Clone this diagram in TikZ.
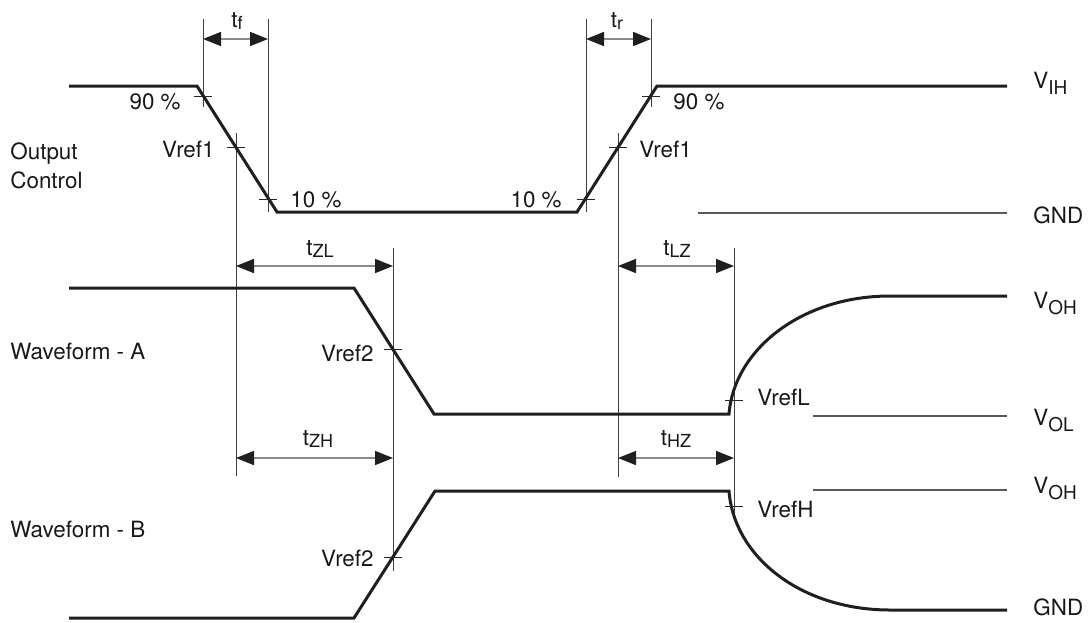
\documentclass[tikz,border=0pt]{standalone}
\usepackage{fontspec}
\setmainfont{TeX Gyre Heros}
\usetikzlibrary{arrows.meta}
\newcommand\tsub[1]{\raisebox{-1pt}{\fontsize{9}{9}\selectfont #1}}
\newcommand\vsub[1]{\raisebox{-3pt}{\fontsize{9.5}{9.5}\selectfont #1}}
\begin{document}
\begin{tikzpicture}[x=0.5pt,y=-0.5pt,
  sig/.style={line width=1.5pt, draw=black!88, line join=miter},
  guide/.style={line width=0.5pt, draw=black!75},
  reflevel/.style={line width=0.6pt, draw=black!65},
  tickmark/.style={line width=0.5pt, draw=black!85},
  dim/.style={line width=0.8pt, draw=black!45,
    {Triangle[length=9pt,width=7pt,color=black!88]}-{Triangle[length=9pt,width=7pt,color=black!88]}},
  lab/.style={inner sep=0pt, font=\fontsize{11.2}{13}\selectfont, text=black!90}]
\useasboundingbox (0,0) rectangle (1090,622);
% ---------- key points ----------
\coordinate (o1) at (69,86);  \coordinate (o2) at (197,86);
\coordinate (o3) at (277,212); \coordinate (o4) at (577,212);
\coordinate (o5) at (657,86); \coordinate (o6) at (1007,86);
\coordinate (a1) at (69,288); \coordinate (a2) at (354,288);
\coordinate (a3) at (434,414); \coordinate (a4) at (729,414);
\coordinate (a5) at (890,296); \coordinate (a6) at (1007,296);
\coordinate (b1) at (69,618); \coordinate (b2) at (354,618);
\coordinate (b3) at (435,491); \coordinate (b4) at (729,491);
\coordinate (b5) at (890,610); \coordinate (b6) at (1007,610);
% tick points
\coordinate (f90) at (203,96);  \coordinate (f10) at (268,199);
\coordinate (fv1) at (236,147); \coordinate (r10) at (586,199);
\coordinate (rv1) at (618,147); \coordinate (r90) at (651,96);
\coordinate (av2) at (393,349); \coordinate (bv2) at (393,557);
\coordinate (vl) at (734,400);  \coordinate (vh) at (734,506);
% guide line ends
\coordinate (g1t) at (203,19);  \coordinate (g1b) at (203,107);
\coordinate (g2t) at (268,19);  \coordinate (g2b) at (268,212);
\coordinate (g3t) at (586,19);  \coordinate (g3b) at (586,212);
\coordinate (g4t) at (651,19);  \coordinate (g4b) at (651,107);
\coordinate (g5t) at (236,133); \coordinate (g5b) at (236,476);
\coordinate (g6t) at (393,248); \coordinate (g6b) at (393,571);
\coordinate (g7t) at (618,133); \coordinate (g7b) at (618,477);
\coordinate (g8t) at (734,248); \coordinate (g8b) at (734,520);
% dimension arrow ends
\coordinate (tfl) at (203,39);  \coordinate (tfr) at (268,39);
\coordinate (trl) at (586,39);  \coordinate (trr) at (651,39);
\coordinate (zll) at (236,266); \coordinate (zlr) at (393,266);
\coordinate (lzl) at (618,266); \coordinate (lzr) at (734,266);
\coordinate (zhl) at (236,458); \coordinate (zhr) at (393,458);
\coordinate (hzl) at (618,458); \coordinate (hzr) at (734,458);
% reference levels
\coordinate (gnd1l) at (698,213); \coordinate (gnd1r) at (1007,213);
\coordinate (voll) at (813,416);  \coordinate (volr) at (1007,416);
\coordinate (vohl) at (813,490);  \coordinate (vohr) at (1007,490);
% ---------- guides ----------
\foreach \g in {1,...,8} \draw[guide] (g\g t) -- (g\g b);
% ---------- reference levels ----------
\draw[reflevel] (gnd1l) -- (gnd1r);
\draw[reflevel] (voll) -- (volr);
\draw[reflevel] (vohl) -- (vohr);
% ---------- dimension arrows ----------
\draw[dim] (tfl) -- (tfr);
\draw[dim] (trl) -- (trr);
\draw[dim] (zll) -- (zlr);
\draw[dim] (lzl) -- (lzr);
\draw[dim] (zhl) -- (zhr);
\draw[dim] (hzl) -- (hzr);
% ---------- signals ----------
\draw[sig] (o1) -- (o2) -- (o3) -- (o4) -- (o5) -- (o6);
\draw[sig] (a1) -- (a2) -- (a3) -- (a4) .. controls (734,350) and (801,296) .. (a5) -- (a6);
\draw[sig] (b1) -- (b2) -- (b3) -- (b4) .. controls (734,557) and (801,610) .. (b5) -- (b6);
% ---------- ticks ----------
\foreach \p in {f90,f10,fv1,r10,rv1,r90,av2,bv2,vl,vh}
  \draw[tickmark] (\p) ++(-9,0) -- ++(18,0);
% ---------- labels ----------
\node[lab,anchor=base] (ltf) at (237,27) {t\tsub{f}};
\node[lab,anchor=base] (ltr) at (617,27) {t\tsub{r}};
\node[lab,anchor=base] (ltzl) at (320,255) {t\tsub{ZL}};
\node[lab,anchor=base] (ltlz) at (677,255) {t\tsub{LZ}};
\node[lab,anchor=base] (ltzh) at (318,445) {t\tsub{ZH}};
\node[lab,anchor=base] (lthz) at (676,445) {t\tsub{HZ}};
\node[lab,anchor=base east] (lf90) at (181,109) {90 \%};
\node[lab,anchor=base east] (lfv1) at (215,157) {Vref1};
\node[lab,anchor=base west] (lf10) at (290,207) {10 \%};
\node[lab,anchor=base east] (lr10) at (562,207) {10 \%};
\node[lab,anchor=base west] (lrv1) at (639,157) {Vref1};
\node[lab,anchor=base west] (lr90) at (673,109) {90 \%};
\node[lab,anchor=base east] (lav2) at (374,361) {Vref2};
\node[lab,anchor=base east] (lbv2) at (374,566) {Vref2};
\node[lab,anchor=base west] (lvl) at (757,405) {VrefL};
\node[lab,anchor=base west] (lvh) at (757,517) {VrefH};
\node[lab,anchor=base west] (lout) at (10,159) {Output};
\node[lab,anchor=base west] (lctl) at (10,188) {Control};
\node[lab,anchor=base west] (lwa) at (10,359) {Waveform - A};
\node[lab,anchor=base west] (lwb) at (10,537) {Waveform - B};
\node[lab,anchor=base west] (lvih) at (1033,88) {V\vsub{IH}};
\node[lab,anchor=base west] (lgnd1) at (1033,223) {GND};
\node[lab,anchor=base west] (lvoh1) at (1033,308) {V\vsub{OH}};
\node[lab,anchor=base west] (lvol) at (1033,425) {V\vsub{OL}};
\node[lab,anchor=base west] (lvoh2) at (1033,493) {V\vsub{OH}};
\node[lab,anchor=base west] (lgnd2) at (1033,615) {GND};
\end{tikzpicture}
\end{document}
